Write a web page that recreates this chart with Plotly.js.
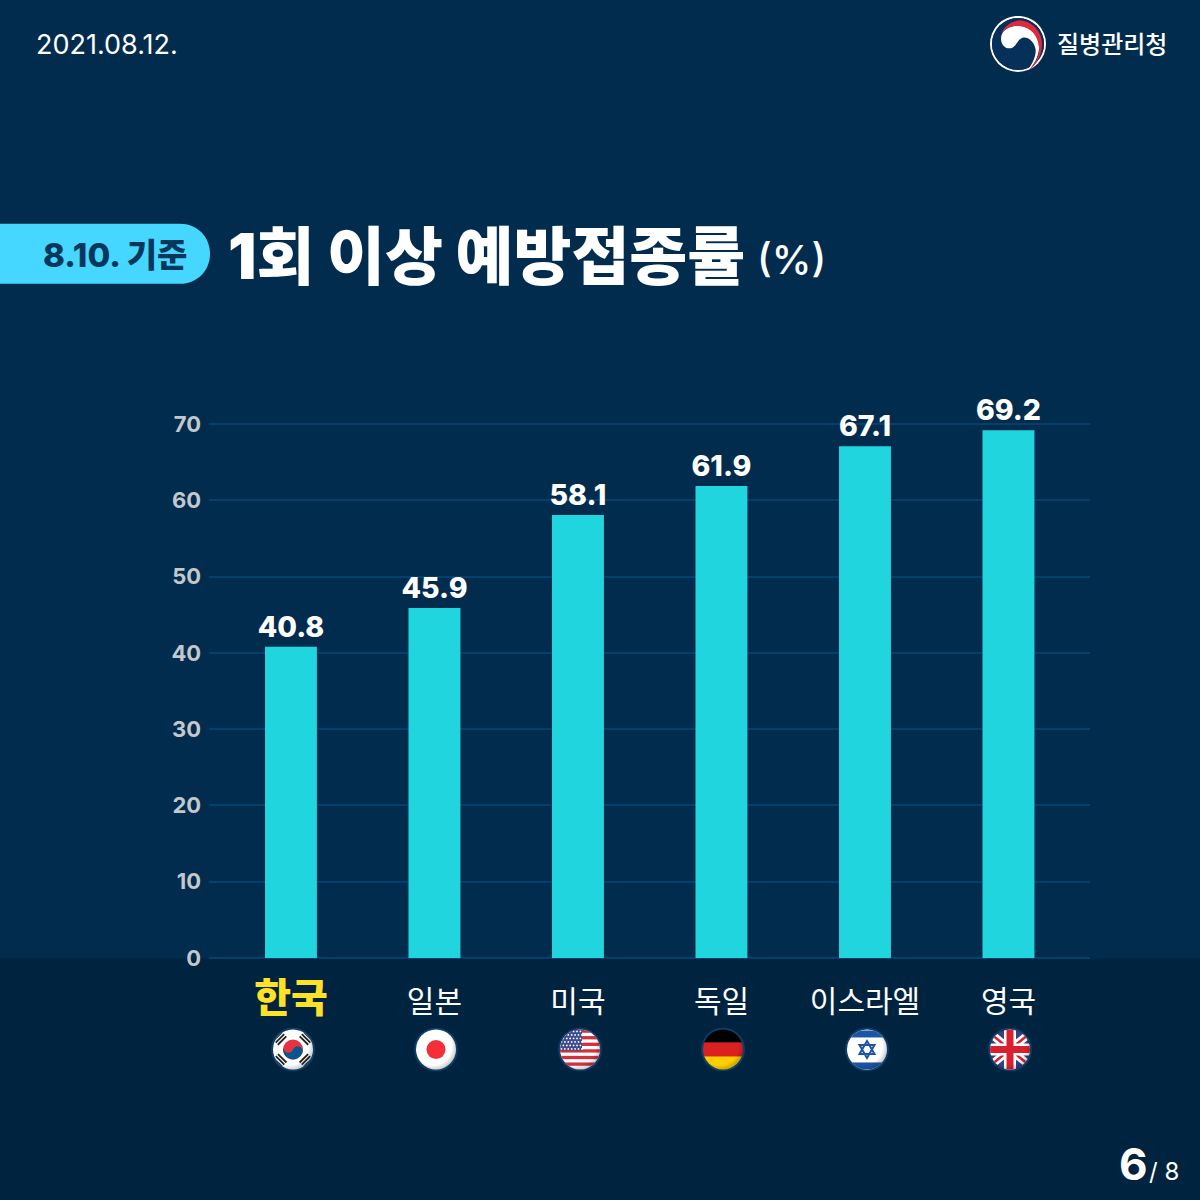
<!DOCTYPE html>
<html>
<head>
<meta charset="utf-8">
<script src="https://cdn.plot.ly/plotly-3.0.1.min.js"></script>
<style>html,body{margin:0;padding:0;background:#012c4e}</style>
</head>
<body>
<div id="chart" style="width:1200px;height:1200px"></div>
<script>
const categories = ['한국', '일본', '미국', '독일', '이스라엘', '영국'];
const values = [40.8, 45.9, 58.1, 61.9, 67.1, 69.2];
const yTicks = [0, 10, 20, 30, 40, 50, 60, 70];
const flagCodes = ['kr', 'jp', 'us', 'de', 'il', 'gb'];
const dateText = '2021.08.12.';
const agencyText = '질병관리청';
const pillText = '8.10. 기준';
const titleText = '1회 이상 예방접종률';
const unitText = '(%)';
const pageNow = '6';
const pageAll = '/ 8';

const KR = '"Noto Sans CJK KR"';
const NUM = 'Inter, "Noto Sans CJK KR"';
const W = 1200, H = 1200;
const L = 209, R = 1090, Y0 = 958.5, PXU = 7.63, YMAX = 75;
const T = Y0 - YMAX * PXU;
const px = x => (x - L) / (R - L);
const py = y => (Y0 - y) / (Y0 - T);

function uri(svg) { return 'data:image/svg+xml;charset=utf-8,' + encodeURIComponent(svg); }

function flagBody(code) {
  if (code === 'kr') {
    const tri = (cx, cy, ang) => `<g transform="translate(${cx} ${cy}) rotate(${ang})" fill="#222"><rect x="-6" y="-4" width="12" height="1.8"/><rect x="-6" y="-1" width="12" height="1.8"/><rect x="-6" y="2" width="12" height="1.8"/></g>`;
    return `<rect width="44" height="44" fill="#fff"/>
      <circle cx="22" cy="22" r="10" fill="#e8323f"/>
      <path d="M12 22 A5 5 0 0 0 22 22 A5 5 0 0 1 32 22 A10 10 0 0 1 12 22Z" fill="#0a5590" transform="rotate(20 22 22)"/>
      ${tri(9, 11, -45)}${tri(35, 11, 45)}${tri(9, 33, 45)}${tri(35, 33, -45)}`;
  }
  if (code === 'jp') {
    return `<rect width="44" height="44" fill="#fff"/><circle cx="22" cy="22" r="9.5" fill="#f42f37"/>`;
  }
  if (code === 'us') {
    let s = '<rect width="44" height="44" fill="#fff"/>';
    for (let i = 0; i < 7; i++) s += `<rect y="${i * 6.6 + 2}" width="44" height="3.3" fill="#d32f3d"/>`;
    s += '<rect width="24" height="22" y="1" fill="#3f4b8f"/>';
    for (let r = 0; r < 6; r++) for (let c = 0; c < 7; c++) s += `<circle cx="${c * 3.4 + 2 + (r % 2) * 1.5}" cy="${r * 3.5 + 4}" r="0.9" fill="#fff"/>`;
    return s;
  }
  if (code === 'de') {
    return `<rect width="44" height="15" fill="#000"/><rect y="15" width="44" height="15" fill="#dc1f1f"/><rect y="29" width="44" height="15" fill="#ffce00"/>`;
  }
  if (code === 'il') {
    return `<rect width="44" height="44" fill="#fff"/><rect y="3" width="44" height="7" fill="#1d55a5"/><rect y="35" width="44" height="6.5" fill="#1d55a5"/>
      <path d="M22 13.5 L29.5 26.5 H14.5Z M22 30.5 L14.5 17.5 H29.5Z" fill="none" stroke="#1d55a5" stroke-width="2"/>`;
  }
  return `<rect width="44" height="44" fill="#3a3f80"/>
    <path d="M0 4 L44 40 M44 4 L0 40" stroke="#fff" stroke-width="8"/>
    <path d="M0 4 L44 40 M44 4 L0 40" stroke="#d9202f" stroke-width="2.5"/>
    <path d="M22 0 V44 M0 22 H44" stroke="#fff" stroke-width="12"/>
    <path d="M22 0 V44 M0 22 H44" stroke="#d9202f" stroke-width="7"/>`;
}

function flagSvg(code) {
  return `<svg xmlns="http://www.w3.org/2000/svg" width="176" height="176" viewBox="0 0 44 44">
    <defs><clipPath id="c"><circle cx="22" cy="22" r="20"/></clipPath>
    <radialGradient id="g" cx="0.42" cy="0.42" r="0.6"><stop offset="0.72" stop-color="#000" stop-opacity="0"/><stop offset="1" stop-color="#000" stop-opacity="0.28"/></radialGradient></defs>
    <circle cx="22" cy="22" r="22" fill="#0b3f68"/>
    <g clip-path="url(#c)">${flagBody(code)}<rect width="44" height="44" fill="url(#g)"/></g></svg>`;
}

const logoSvg = `<svg xmlns="http://www.w3.org/2000/svg" width="224" height="224" viewBox="0 0 56 56">
  <circle cx="28" cy="28" r="28" fill="#fff"/>
  <circle cx="28" cy="28" r="26" fill="#012c4e"/>
  <circle cx="28" cy="28" r="26" fill="#04305a"/>
  <path d="M11 23 C11 14 20 9.500 30 10 C42 11 50 22 49 33 C48 42 44 49 38 54 C43 47 46.500 39 45.500 33 C44 25 37 20 32 22 C27 24 27 30 22 32 C16 34 11 29 11 23Z" fill="#fff"/>
  <path d="M10.500 20 C13 11 21 5 29 4.700 C41 4.500 52 15 52 28 C52 40 46 50 38 54.500 C45 48 50 40 49 31 C48 19 40 11 30 10 C20 9.500 12.500 14 10.500 20Z" fill="#e5273b"/>
</svg>`;

const flagCenters = [293, 436, 580, 723, 867, 1010];
const images = flagCodes.map((c, i) => ({
  source: uri(flagSvg(c)), xref: 'paper', yref: 'paper',
  x: px(flagCenters[i]), y: py(1050), sizex: 44 / (R - L), sizey: 44 / (Y0 - T),
  xanchor: 'center', yanchor: 'middle', sizing: 'stretch', layer: 'above'
}));
images.push({
  source: uri(logoSvg), xref: 'paper', yref: 'paper',
  x: px(1018), y: py(44), sizex: 56 / (R - L), sizey: 56 / (Y0 - T),
  xanchor: 'center', yanchor: 'middle', sizing: 'stretch', layer: 'above'
});

function note(text, x, y, size, color, anchor, weight, family) {
  return { text, xref: 'paper', yref: 'paper', x: px(x), y: py(y), xanchor: anchor || 'left', yanchor: 'middle',
    showarrow: false, borderpad: 0, font: { size, color, family: family || KR, weight: weight || 400 } };
}

const pillPath = (() => {
  const pts = (x, y) => `${px(x)} ${py(y)}`;
  return `M ${pts(-5, 224)} L ${pts(180, 224)} C ${pts(197, 224)} ${pts(210, 237)} ${pts(210, 254)} C ${pts(210, 271)} ${pts(197, 284)} ${pts(180, 284)} L ${pts(-5, 284)} Z`;
})();

const trace = {
  type: 'bar', x: categories, y: values, width: 0.362,
  marker: { color: '#20d5de', line: { width: 0 } },
  text: values.map(v => v.toFixed(1)), textposition: 'outside', cliponaxis: false, constraintext: 'none', textangle: 0,
  textfont: { family: NUM, size: 28.5, color: '#ffffff', weight: 800 },
  hoverinfo: 'skip'
};

const layout = {
  width: W, height: H, autosize: false, showlegend: false,
  paper_bgcolor: '#012c4e', plot_bgcolor: 'rgba(0,0,0,0)',
  margin: { l: L, r: W - R, t: T, b: H - Y0, pad: 0 },
  bargap: 0.638,
  xaxis: {
    type: 'category', range: [-0.571, 5.568], fixedrange: true,
    tickmode: 'array', tickvals: categories,
    ticktext: categories.map((c, i) => i === 0
      ? `<span style="font-size:40px;color:#ffe227;font-weight:900">${c}</span>` : c),
    tickfont: { family: KR, size: 30, color: '#ffffff' },
    ticks: 'outside', ticklen: 17, tickcolor: 'rgba(0,0,0,0)', showline: false, showgrid: false, zeroline: false
  },
  yaxis: {
    range: [0, YMAX], fixedrange: true, tickmode: 'array', tickvals: yTicks,
    tickfont: { family: NUM, size: 22, color: '#c4c8cc', weight: 700 },
    showgrid: true, gridcolor: '#053f6b', gridwidth: 2,
    zeroline: true, zerolinecolor: '#053f6b', zerolinewidth: 2,
    showline: false, ticks: 'outside', ticklen: 2.5, tickcolor: 'rgba(0,0,0,0)'
  },
  shapes: [
    { type: 'rect', xref: 'paper', yref: 'paper', x0: px(-5), x1: px(1205), y0: py(959), y1: py(1205), fillcolor: '#00233f', line: { width: 0 }, layer: 'below' },
    { type: 'path', xref: 'paper', yref: 'paper', path: pillPath, fillcolor: '#45d7ff', line: { width: 0 }, layer: 'below' }
  ],
  images,
  annotations: [
    note(dateText, 35, 45, 27, '#ffffff', 'left', 400, 'Inter'),
    note(agencyText, 1056, 43, 24, '#ffffff', 'left', 500),
    note(pillText, 42, 255, 33, '#07375c', 'left', 800, NUM),
    note(titleText, 227, 256, 63, '#ffffff', 'left', 900, NUM),
    note(unitText, 756, 260, 40, '#ffffff', 'left', 500, NUM),
    note(pageNow, 1118, 1165, 44, '#ffffff', 'left', 700, NUM),
    note(pageAll, 1148, 1172, 24, '#ffffff', 'left', 400, NUM)
  ]
};

Plotly.newPlot('chart', [trace], layout, { staticPlot: true, displayModeBar: false });
</script>
</body>
</html>
